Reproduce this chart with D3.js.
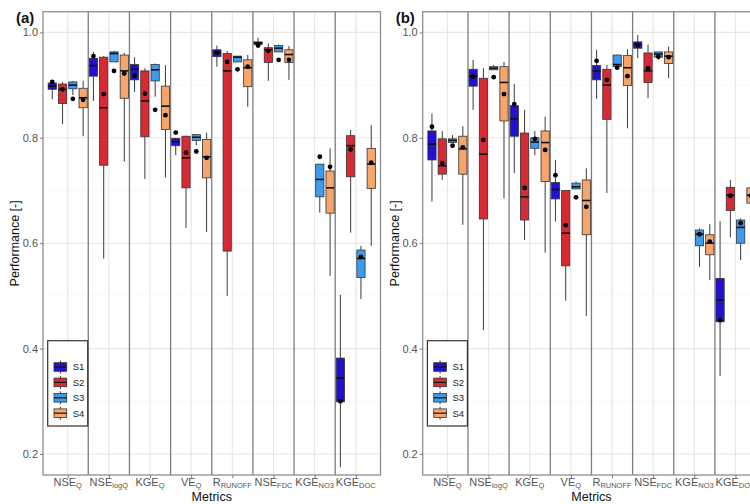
<!DOCTYPE html>
<html>
<head>
<meta charset="utf-8">
<script src="https://cdn.jsdelivr.net/npm/d3@7"></script>
<style>
  html, body { margin: 0; padding: 0; background: #fff; }
  svg { display: block; font-family: "Liberation Sans", Arial, Helvetica, sans-serif; }
</style>
</head>
<body>
<svg id="chart" width="750" height="504"></svg>
<script>
// ---------------- data ----------------
const metricMain = ["NSE", "NSE", "KGE", "VE", "R", "NSE", "KGE", "KGE"];
const metricSub  = ["Q", "logQ", "Q", "Q", "RUNOFF", "FDC", "NO3", "DOC"];
const scenarios  = ["S1", "S2", "S3", "S4"];
const scenarioColors = ["#2410d2", "#d82a35", "#3d9bef", "#f8a56c"];
const yTicks = [0.2, 0.4, 0.6, 0.8, 1.0];
const yMinorTicks = [0.3, 0.5, 0.7, 0.9];
const panelLabels = ["(a)", "(b)"];

// each entry: [whiskerLow, q1, median, q3, whiskerHigh, mean] per metric
const a_S1 = [
  [0.873, 0.892, 0.898, 0.904, 0.908, 0.906],
  [0.870, 0.917, 0.937, 0.951, 0.963, 0.955],
  [0.887, 0.910, 0.930, 0.939, 0.953, 0.918],
  [0.767, 0.785, 0.793, 0.799, 0.800, 0.810],
  [0.935, 0.954, 0.962, 0.967, 0.975, 0.961],
  [0.977, 0.977, 0.980, 0.982, 0.990, 0.975],
  null,
  [0.175, 0.299, 0.344, 0.382, 0.502, 0.300]
];
const a_S2 = [
  [0.826, 0.865, 0.892, 0.902, 0.906, 0.892],
  [0.571, 0.748, 0.857, 0.953, 0.955, 0.883],
  [0.722, 0.802, 0.870, 0.927, 0.932, 0.884],
  [0.629, 0.705, 0.762, 0.803, 0.804, 0.772],
  [0.500, 0.585, 0.927, 0.960, 0.965, 0.944],
  [0.908, 0.943, 0.967, 0.971, 0.979, 0.965],
  null,
  [0.620, 0.726, 0.785, 0.804, 0.815, 0.778]
];
const a_S3 = [
  [0.881, 0.893, 0.900, 0.906, 0.908, 0.874],
  [0.944, 0.944, 0.960, 0.963, 0.965, 0.927],
  [0.878, 0.908, 0.929, 0.939, 0.941, 0.853],
  [0.786, 0.795, 0.801, 0.806, 0.807, 0.774],
  [0.944, 0.944, 0.953, 0.955, 0.955, 0.930],
  [0.963, 0.963, 0.970, 0.975, 0.977, 0.948],
  [0.658, 0.688, 0.721, 0.750, 0.750, 0.764],
  [0.494, 0.535, 0.571, 0.587, 0.595, 0.574]
];
const a_S4 = [
  [0.803, 0.857, 0.876, 0.894, 0.908, 0.872],
  [0.755, 0.875, 0.927, 0.957, 0.961, 0.922],
  [0.725, 0.816, 0.860, 0.898, 0.938, 0.843],
  [0.621, 0.724, 0.764, 0.797, 0.810, 0.762],
  [0.859, 0.897, 0.933, 0.948, 0.957, 0.935],
  [0.910, 0.943, 0.958, 0.967, 0.974, 0.948],
  [0.538, 0.657, 0.705, 0.737, 0.780, 0.745],
  [0.595, 0.704, 0.750, 0.780, 0.824, 0.753]
];

const b_S1 = [
  [0.679, 0.758, 0.788, 0.813, 0.846, 0.821],
  [0.853, 0.898, 0.917, 0.930, 0.948, 0.916],
  [0.733, 0.803, 0.836, 0.861, 0.902, 0.864],
  [0.641, 0.684, 0.702, 0.715, 0.758, 0.729],
  [0.874, 0.910, 0.927, 0.937, 0.967, 0.946],
  [0.951, 0.970, 0.977, 0.982, 0.995, 0.976],
  null,
  [0.348, 0.451, 0.492, 0.533, 0.642, 0.454]
];
const b_S2 = [
  [0.720, 0.731, 0.747, 0.798, 0.813, 0.752],
  [0.435, 0.646, 0.769, 0.913, 0.932, 0.796],
  [0.606, 0.644, 0.688, 0.809, 0.853, 0.705],
  [0.491, 0.557, 0.619, 0.700, 0.700, 0.634],
  [0.695, 0.835, 0.900, 0.930, 0.938, 0.910],
  [0.875, 0.905, 0.927, 0.961, 0.977, 0.932],
  null,
  [0.611, 0.662, 0.691, 0.706, 0.720, 0.690]
];
const b_S3 = [
  [0.791, 0.791, 0.795, 0.798, 0.805, 0.785],
  [0.929, 0.929, 0.932, 0.935, 0.938, 0.915],
  [0.767, 0.780, 0.792, 0.800, 0.813, 0.798],
  [0.703, 0.703, 0.707, 0.714, 0.717, 0.687],
  [0.935, 0.935, 0.939, 0.957, 0.958, 0.933],
  [0.948, 0.953, 0.959, 0.963, 0.963, 0.954],
  [0.555, 0.595, 0.617, 0.625, 0.628, 0.617],
  [0.568, 0.600, 0.630, 0.644, 0.647, 0.638]
];
const b_S4 = [
  [0.635, 0.731, 0.779, 0.803, 0.822, 0.782],
  [0.685, 0.832, 0.905, 0.935, 0.944, 0.883],
  [0.582, 0.717, 0.791, 0.813, 0.840, 0.777],
  [0.462, 0.616, 0.681, 0.720, 0.742, 0.669],
  [0.818, 0.899, 0.933, 0.956, 0.968, 0.917],
  [0.913, 0.941, 0.955, 0.963, 0.973, 0.953],
  [0.530, 0.578, 0.600, 0.616, 0.636, 0.603],
  [0.640, 0.676, 0.691, 0.705, 0.720, 0.690]
];

const panels = [
  { label: panelLabels[0], left: 43.0, series: [a_S1, a_S2, a_S3, a_S4] },
  { label: panelLabels[1], left: 422.7, series: [b_S1, b_S2, b_S3, b_S4] }
];

// ---------------- layout ----------------
const plotTop = 11.7, plotBottom = 475, panelW = 337.5;
const svg = d3.select("#chart");
const y = d3.scaleLinear().domain([0.1601, 1.0393]).range([plotBottom, plotTop]);
const nCat = metricMain.length;
const dodge = 0.25, boxW = 0.2;

panels.forEach(p => {
  const x = d3.scaleLinear().domain([0.4, nCat + 0.6]).range([p.left, p.left + panelW]);
  const unit = x(1) - x(0);
  const g = svg.append("g");

  // grid
  g.selectAll(".ymin").data(yMinorTicks).join("line")
    .attr("x1", p.left).attr("x2", p.left + panelW)
    .attr("y1", d => y(d)).attr("y2", d => y(d))
    .attr("stroke", "#f2f2f2").attr("stroke-width", 0.6);
  g.selectAll(".ymaj").data(yTicks).join("line")
    .attr("x1", p.left).attr("x2", p.left + panelW)
    .attr("y1", d => y(d)).attr("y2", d => y(d))
    .attr("stroke", "#e6e6e6").attr("stroke-width", 1.1);
  g.selectAll(".xmaj").data(d3.range(1, nCat + 1)).join("line")
    .attr("x1", d => x(d)).attr("x2", d => x(d))
    .attr("y1", plotTop).attr("y2", plotBottom)
    .attr("stroke", "#e6e6e6").attr("stroke-width", 1.1);

  // separators
  g.selectAll(".sep").data(d3.range(1.5, nCat, 1)).join("line")
    .attr("x1", d => x(d)).attr("x2", d => x(d))
    .attr("y1", plotTop).attr("y2", plotBottom)
    .attr("stroke", "#7d7d7d").attr("stroke-width", 1.3);

  // boxes
  p.series.forEach((ser, j) => {
    const off = (j - 1.5) * dodge;
    ser.forEach((s, i) => {
      if (!s) return;
      const cx = x(i + 1 + off);
      const hw = boxW * unit / 2;
      const gg = g.append("g");
      gg.append("line").attr("x1", cx).attr("x2", cx)
        .attr("y1", y(s[4])).attr("y2", y(s[3]))
        .attr("stroke", "#3a3a3a").attr("stroke-width", 1);
      gg.append("line").attr("x1", cx).attr("x2", cx)
        .attr("y1", y(s[1])).attr("y2", y(s[0]))
        .attr("stroke", "#3a3a3a").attr("stroke-width", 1);
      gg.append("rect").attr("x", cx - hw).attr("width", 2 * hw)
        .attr("y", y(s[3])).attr("height", Math.max(0.5, y(s[1]) - y(s[3])))
        .attr("fill", scenarioColors[j]).attr("stroke", "#333").attr("stroke-width", 0.8);
      gg.append("line").attr("x1", cx - hw).attr("x2", cx + hw)
        .attr("y1", y(s[2])).attr("y2", y(s[2]))
        .attr("stroke", "#111").attr("stroke-width", 1.6);
      gg.append("circle").attr("cx", cx).attr("cy", y(s[5])).attr("r", 2.4)
        .attr("fill", "#000");
    });
  });

  // panel border
  g.append("rect").attr("x", p.left).attr("y", plotTop).attr("width", panelW).attr("height", plotBottom - plotTop)
    .attr("fill", "none").attr("stroke", "#8f8f8f").attr("stroke-width", 1.3);

  // y axis
  const yAxis = d3.axisLeft(y).tickValues(yTicks).tickFormat(d3.format(".1f")).tickSize(3).tickPadding(2);
  const ya = g.append("g").attr("transform", `translate(${p.left},0)`).call(yAxis);
  ya.select(".domain").remove();
  ya.selectAll("line").attr("stroke", "#777");
  ya.selectAll("text").attr("fill", "#555").attr("font-size", 11).attr("font-family", "Liberation Sans, Arial, sans-serif");

  // x axis
  const xAxis = d3.axisBottom(x).tickValues(d3.range(1, nCat + 1)).tickSize(3).tickFormat("");
  const xa = g.append("g").attr("transform", `translate(0,${plotBottom})`).call(xAxis);
  xa.select(".domain").remove();
  xa.selectAll("line").attr("stroke", "#777");
  d3.range(nCat).forEach(i => {
    const t = g.append("text").attr("x", x(i + 1)).attr("y", 485.5)
      .attr("text-anchor", "middle").attr("fill", "#555").attr("font-size", 11);
    t.append("tspan").text(metricMain[i]);
    t.append("tspan").text(metricSub[i]).attr("font-size", 7.5).attr("dy", 2);
  });

  // titles
  g.append("text").attr("x", p.left + panelW / 2).attr("y", 500.5)
    .attr("text-anchor", "middle").attr("font-size", 12.5).attr("fill", "#111").text("Metrics");
  g.append("text").attr("transform", `translate(${p.left - 24},${(plotTop + plotBottom) / 2}) rotate(-90)`)
    .attr("text-anchor", "middle").attr("font-size", 12.5).attr("fill", "#111").text("Performance [-]");
  g.append("text").attr("x", p.left - 27).attr("y", 23).attr("font-size", 15)
    .attr("font-weight", "bold").attr("fill", "#111").text(p.label);

  // legend
  const lx = p.left + 4.7, ly = 340.7;
  const lg = g.append("g");
  lg.append("rect").attr("x", lx).attr("y", ly).attr("width", 40).attr("height", 85.3)
    .attr("fill", "#fff").attr("stroke", "#333").attr("stroke-width", 1.2);
  scenarios.forEach((s, j) => {
    const cy = 367 + j * 15.4;
    const kx = lx + 6.3, kw = 12.7;
    lg.append("line").attr("x1", kx + kw / 2).attr("x2", kx + kw / 2)
      .attr("y1", cy - 6.5).attr("y2", cy + 6.5).attr("stroke", "#3a3a3a").attr("stroke-width", 1);
    lg.append("rect").attr("x", kx).attr("y", cy - 4.3).attr("width", kw).attr("height", 8.6)
      .attr("fill", scenarioColors[j]).attr("stroke", "#333").attr("stroke-width", 0.8);
    lg.append("line").attr("x1", kx).attr("x2", kx + kw).attr("y1", cy).attr("y2", cy)
      .attr("stroke", "#111").attr("stroke-width", 1.2);
    lg.append("text").attr("x", lx + 25).attr("y", cy + 3.3).attr("font-size", 9.5)
      .attr("fill", "#222").text(s);
  });
});
</script>
</body>
</html>
